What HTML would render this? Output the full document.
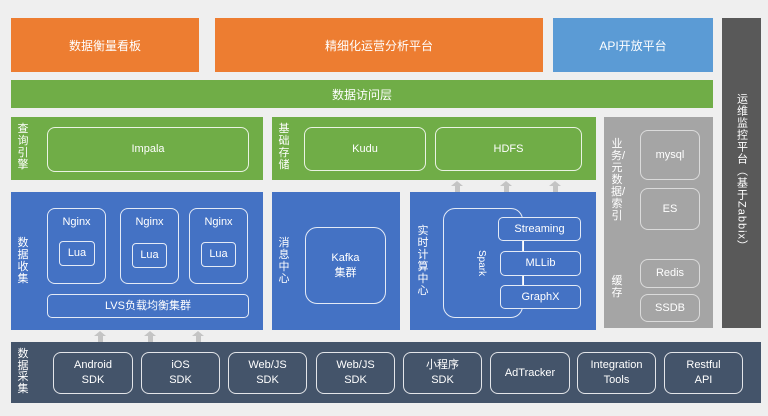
<!DOCTYPE html>
<html><head><meta charset="utf-8"><style>
*{margin:0;padding:0;box-sizing:border-box}
body{width:768px;height:416px;background:#efefef;position:relative;overflow:hidden;font-family:"Liberation Sans","Noto Sans CJK SC",sans-serif;color:#fff}
.a{position:absolute}
.c{display:flex;align-items:center;justify-content:center;text-align:center}
.o{background:#ed7d31}.g{background:#70ad47}.b{background:#4472c4}.gr{background:#a5a5a5}
.bx{position:absolute;border:1.5px solid rgba(255,255,255,.85);border-radius:8px;display:flex;align-items:center;justify-content:center;text-align:center;font-size:11px;line-height:15px}
.v{position:absolute;font-size:11px;line-height:12px;width:12px;text-align:center;word-break:break-all}
.ar{position:absolute;width:0;height:0;border-left:6px solid transparent;border-right:6px solid transparent;border-bottom:5px solid #c4c4c4}
.st{position:absolute;width:5px;background:#c4c4c4}
</style></head><body>
<div class="a c o" style="left:11px;top:18px;width:188px;height:54px;font-size:12px">数据衡量看板</div>
<div class="a c o" style="left:215px;top:18px;width:328px;height:54px;font-size:12px">精细化运营分析平台</div>
<div class="a c" style="left:553px;top:18px;width:160px;height:54px;font-size:12px;background:#5b9bd5">API开放平台</div>
<div class="a c g" style="left:11px;top:80px;width:702px;height:28px;font-size:12px">数据访问层</div>
<div class="a c" style="left:722px;top:18px;width:39px;height:310px;background:#595959"><div style="writing-mode:vertical-rl;font-size:11px;letter-spacing:1px">运维监控平台（基于Zabbix）</div></div>

<div class="a g" style="left:11px;top:117px;width:252px;height:63px"></div>
<div class="v" style="left:17px;top:123px">查询引擎</div>
<div class="bx" style="left:47px;top:127px;width:202px;height:45px">Impala</div>
<div class="a g" style="left:272px;top:117px;width:324px;height:63px"></div>
<div class="v" style="left:278px;top:123px">基础存储</div>
<div class="bx" style="left:304px;top:127px;width:122px;height:44px">Kudu</div>
<div class="bx" style="left:435px;top:127px;width:147px;height:44px">HDFS</div>

<div class="a gr" style="left:604px;top:117px;width:109px;height:183px"></div>
<div class="v" style="left:611px;top:138px;color:#fff">业务/元数据/索引</div>
<div class="bx" style="left:640px;top:130px;width:60px;height:50px;border-color:rgba(255,255,255,.6)">mysql</div>
<div class="bx" style="left:640px;top:188px;width:60px;height:42px;border-color:rgba(255,255,255,.6)">ES</div>
<div class="a gr" style="left:604px;top:250px;width:109px;height:78px"></div>
<div class="v" style="left:611px;top:275px">缓存</div>
<div class="bx" style="left:640px;top:259px;width:60px;height:29px;border-color:rgba(255,255,255,.6)">Redis</div>
<div class="bx" style="left:640px;top:294px;width:60px;height:28px;border-color:rgba(255,255,255,.6)">SSDB</div>

<div class="a b" style="left:11px;top:192px;width:252px;height:138px"></div>
<div class="v" style="left:17px;top:237px">数据收集</div>
<div class="bx" style="left:47px;top:208px;width:59px;height:76px;align-items:flex-start;padding-top:6px">Nginx</div>
<div class="bx" style="left:120px;top:208px;width:59px;height:76px;align-items:flex-start;padding-top:6px">Nginx</div>
<div class="bx" style="left:189px;top:208px;width:59px;height:76px;align-items:flex-start;padding-top:6px">Nginx</div>
<div class="bx" style="left:59px;top:241px;width:36px;height:25px;border-radius:4px">Lua</div>
<div class="bx" style="left:132px;top:243px;width:35px;height:25px;border-radius:4px">Lua</div>
<div class="bx" style="left:201px;top:242px;width:35px;height:25px;border-radius:4px">Lua</div>
<div class="bx" style="left:47px;top:294px;width:202px;height:24px;border-radius:5px">LVS负载均衡集群</div>

<div class="a b" style="left:272px;top:192px;width:128px;height:138px"></div>
<div class="v" style="left:278px;top:237px">消息中心</div>
<div class="bx" style="left:305px;top:227px;width:81px;height:77px;border-radius:12px">Kafka<br>集群</div>

<div class="a b" style="left:410px;top:192px;width:186px;height:138px"></div>
<div class="v" style="left:417px;top:225px">实时计算中心</div>
<div class="bx" style="left:443px;top:208px;width:80px;height:110px;border-radius:12px;justify-content:flex-start;padding-left:30px"><span style="writing-mode:vertical-rl;font-size:10px">Spark</span></div>
<div class="a" style="left:523px;top:240px;width:1px;height:50px;background:#fff"></div>
<div class="bx b" style="left:498px;top:217px;width:83px;height:24px;border-radius:5px">Streaming</div>
<div class="bx b" style="left:500px;top:251px;width:81px;height:25px;border-radius:5px">MLLib</div>
<div class="bx b" style="left:500px;top:285px;width:81px;height:24px;border-radius:5px">GraphX</div>

<div class="ar" style="left:451px;top:181px"></div><div class="st" style="left:455px;top:186px;height:6px"></div>
<div class="ar" style="left:500px;top:181px"></div><div class="st" style="left:504px;top:186px;height:6px"></div>
<div class="ar" style="left:549px;top:181px"></div><div class="st" style="left:553px;top:186px;height:6px"></div>
<div class="ar" style="left:94px;top:331px"></div><div class="st" style="left:98px;top:336px;height:6px"></div>
<div class="ar" style="left:144px;top:331px"></div><div class="st" style="left:148px;top:336px;height:6px"></div>
<div class="ar" style="left:192px;top:331px"></div><div class="st" style="left:196px;top:336px;height:6px"></div>

<div class="a" style="left:11px;top:342px;width:750px;height:61px;background:#44546a"></div>
<div class="v" style="left:17px;top:349px;line-height:11.5px">数据采集</div>
<div class="bx" style="left:53px;top:352px;width:80px;height:42px">Android<br>SDK</div>
<div class="bx" style="left:141px;top:352px;width:79px;height:42px">iOS<br>SDK</div>
<div class="bx" style="left:228px;top:352px;width:79px;height:42px">Web/JS<br>SDK</div>
<div class="bx" style="left:316px;top:352px;width:79px;height:42px">Web/JS<br>SDK</div>
<div class="bx" style="left:403px;top:352px;width:79px;height:42px">小程序<br>SDK</div>
<div class="bx" style="left:490px;top:352px;width:80px;height:42px">AdTracker</div>
<div class="bx" style="left:577px;top:352px;width:79px;height:42px">Integration<br>Tools</div>
<div class="bx" style="left:664px;top:352px;width:79px;height:42px">Restful<br>API</div>
</body></html>
